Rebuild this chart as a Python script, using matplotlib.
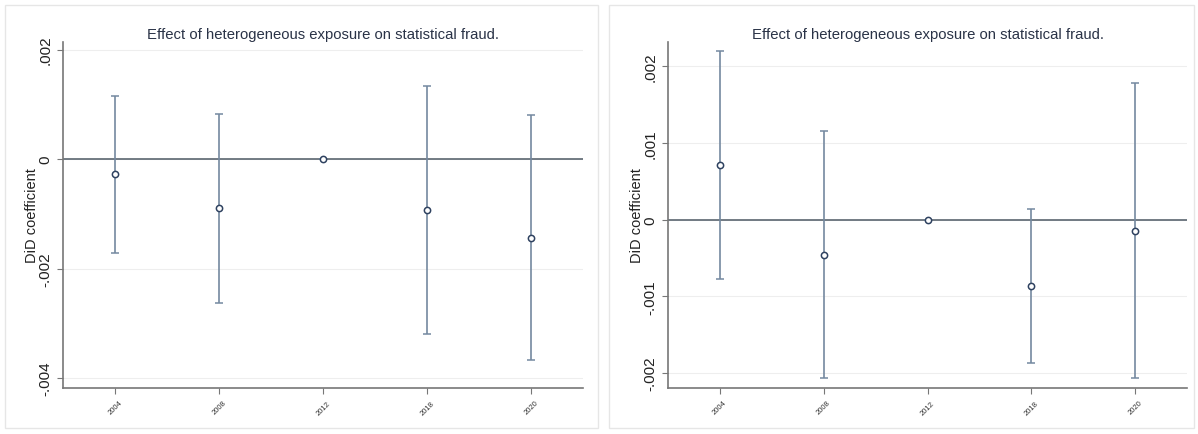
import numpy as np
import matplotlib.pyplot as plt
from matplotlib.patches import Rectangle

plt.rcParams['font.family'] = ['Liberation Sans', 'DejaVu Sans']

years = ["2004", "2008", "2012", "2018", "2020"]

# left panel
coef_a = [-0.00027, -0.00090, 0.0, -0.00093, -0.00144]
lo_a = [-0.00171, -0.00263, 0.0, -0.00319, -0.00367]
hi_a = [0.00115, 0.00082, 0.0, 0.00134, 0.00080]

# right panel
coef_b = [0.00071, -0.000455, 0.0, -0.00087, -0.000143]
lo_b = [-0.00078, -0.00206, 0.0, -0.00187, -0.00206]
hi_b = [0.00220, 0.00116, 0.0, 0.000134, 0.00178]

title = "Effect of heterogeneous exposure on statistical fraud."

fig = plt.figure(figsize=(11.98, 4.35), dpi=100)

# light frames round each graph
for x0, w in [(5, 593), (609, 585)]:
    fig.add_artist(Rectangle((x0 / 1198, 6 / 435), w / 1198, 423 / 435,
                             transform=fig.transFigure, fill=False,
                             edgecolor='#e6e6e6', linewidth=1))

def panel(rect, coef, lo, hi, ylim, yticks, ylabels):
    ax = fig.add_axes(rect)
    x = np.arange(1, len(years) + 1)
    coef = np.array(coef)
    err = [coef - np.array(lo), np.array(hi) - coef]
    for t in yticks:
        ax.axhline(t, color='#eeeeee', linewidth=0.8, zorder=0)
    ax.axhline(0, color='#5b6670', linewidth=1.2, zorder=1)
    ax.errorbar(x, coef, yerr=err, fmt='o', color='#7489a0', ecolor='#7489a0',
                elinewidth=1.2, capsize=3, capthick=1, markersize=4.5,
                markerfacecolor='white', markeredgecolor='#2f4260',
                markeredgewidth=1.1, zorder=3)
    ax.set_xlim(0.5, 5.5)
    ax.set_ylim(*ylim)
    ax.set_xticks(x)
    ax.set_xticklabels(years, rotation=45, fontsize=5.5, color='#333333')
    ax.set_yticks(yticks)
    ax.set_yticklabels(ylabels, rotation=90, va='center', fontsize=11,
                       color='#222222')
    ax.set_ylabel("DiD coefficient", fontsize=10.5, color='#222222',
                  labelpad=0)
    ax.set_title(title, fontsize=10.7, color='#2a3347', pad=3)
    for s in ['top', 'right']:
        ax.spines[s].set_visible(False)
    for s in ['left', 'bottom']:
        ax.spines[s].set_color('#777777')
        ax.spines[s].set_linewidth(1.2)
    ax.tick_params(color='#777777', length=4)
    ax.tick_params(axis='x', pad=4)
    return ax

panel([63 / 1198, 46 / 435, 520 / 1198, 346 / 435], coef_a, lo_a, hi_a,
      (-0.00418, 0.00214), [-0.004, -0.002, 0, 0.002],
      ["-.004", "-.002", "0", ".002"])
panel([668 / 1198, 46 / 435, 519 / 1198, 346 / 435], coef_b, lo_b, hi_b,
      (-0.002195, 0.002315), [-0.002, -0.001, 0, 0.001, 0.002],
      ["-.002", "-.001", "0", ".001", ".002"])

plt.savefig('out.png', dpi=100)
